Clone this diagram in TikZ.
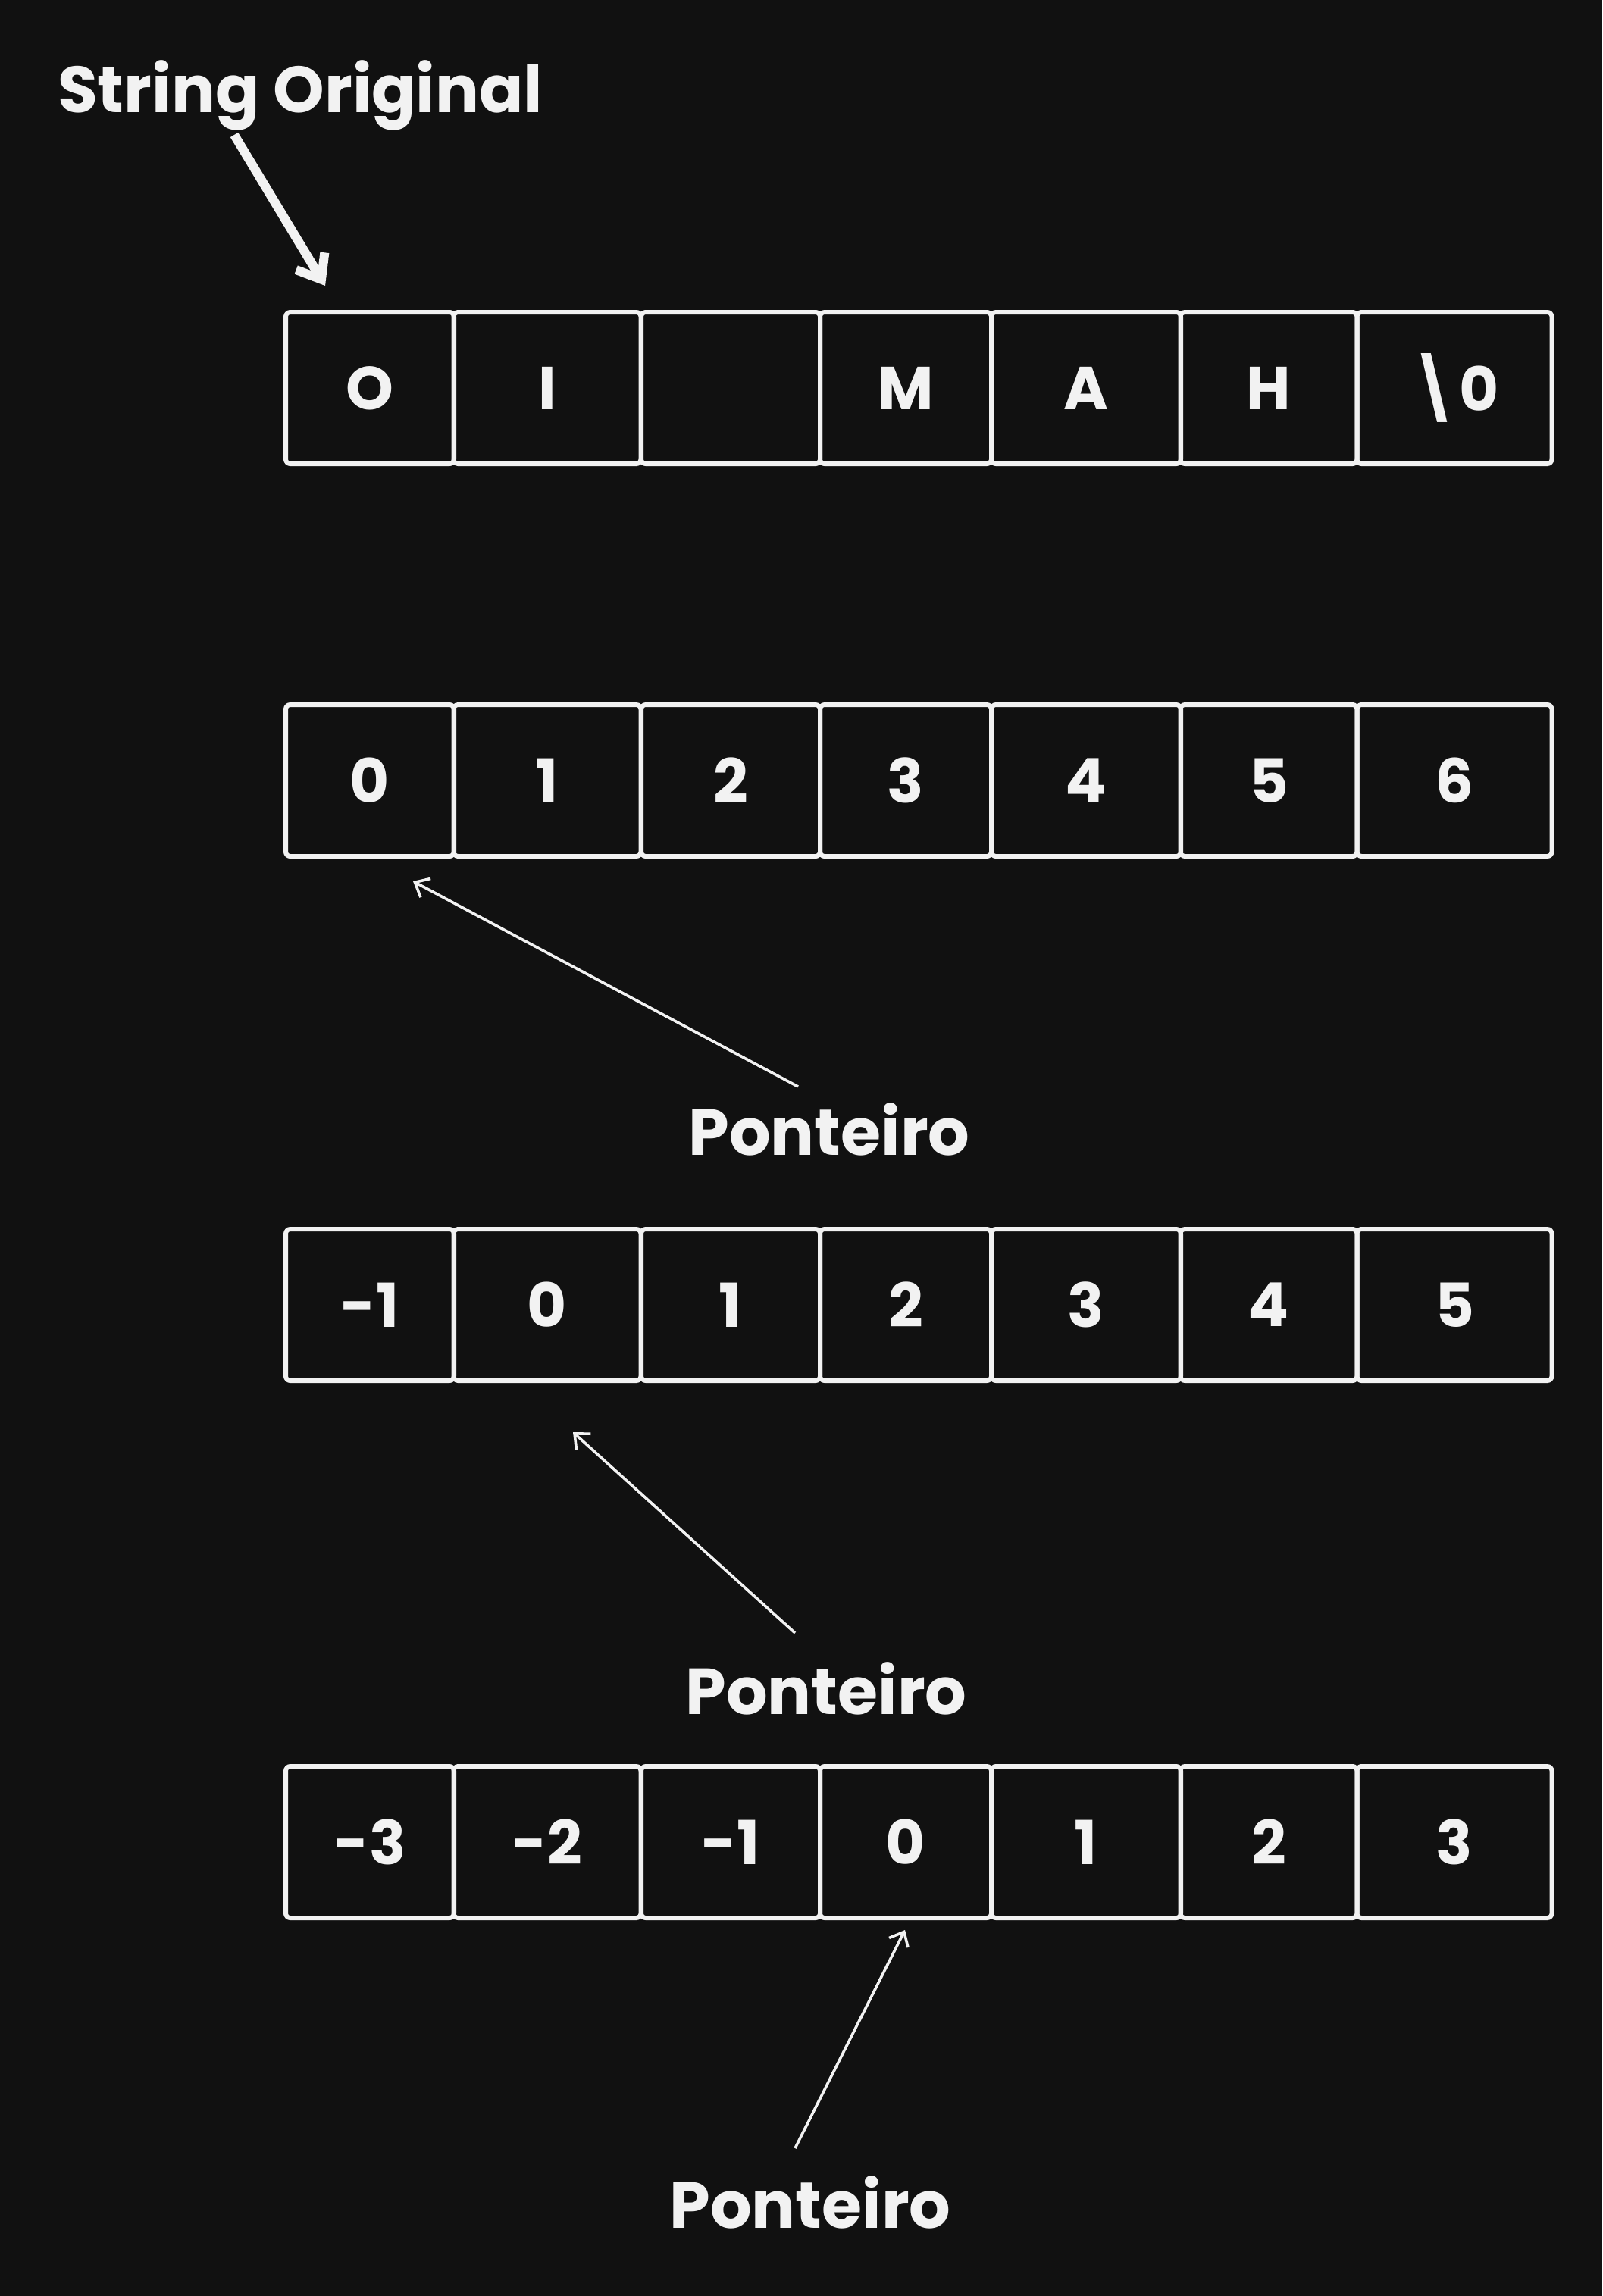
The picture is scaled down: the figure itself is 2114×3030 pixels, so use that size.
\documentclass[tikz,border=0pt]{standalone}
\usepackage{fontspec}
\setmainfont{Poppins}
\usetikzlibrary{arrows.meta}
\definecolor{bgdark}{HTML}{111111}
\definecolor{chalk}{HTML}{F2F2F2}

\begin{document}
\begin{tikzpicture}[x=0.25pt, y=-0.25pt, thick,
  cell/.style = {draw=chalk, line width=1.5pt, rounded corners=1.5pt, minimum height=50pt, inner sep=0pt, text=chalk, font=\fontsize{20}{24}\selectfont\bfseries},
  tag/.style = {text=chalk, font=\fontsize{21.5}{25}\selectfont\bfseries},
  ptr/.style = {draw=chalk, line width=0.9pt, -{Straight Barb[length=4pt,width=7pt]}}]
\fill[bgdark] (0,0) rectangle (2114,3030);
\useasboundingbox (0,0) rectangle (2114,3030);
% string cells
\foreach \cx/\w/\t [count=\i] in {488/222/O, 722/247/I, 964/236/{}, 1195/226/M, 1433/250/A, 1674/233/H, 1919/257/\textbackslash 0}
  \node[cell, minimum width=\w*0.25pt] (a\i) at (\cx,512) {\t};
% indices
\foreach \cx/\w/\t [count=\i] in {488/222/0, 722/247/1, 964/236/2, 1195/226/3, 1433/250/4, 1674/233/5, 1919/257/6}
  \node[cell, minimum width=\w*0.25pt] (b\i) at (\cx,1030) {\t};
\foreach \cx/\w/\t [count=\i] in {488/222/-1, 722/247/0, 964/236/1, 1195/226/2, 1433/250/3, 1674/233/4, 1919/257/5}
  \node[cell, minimum width=\w*0.25pt] (c\i) at (\cx,1722) {\t};
\foreach \cx/\w/\t [count=\i] in {488/222/-3, 722/247/-2, 964/236/-1, 1195/226/0, 1433/250/1, 1674/233/2, 1919/257/3}
  \node[cell, minimum width=\w*0.25pt] (d\i) at (\cx,2431) {\t};
% labels
\node[tag] (orig) at (396,126) {String Original};
\node[tag] (p1) at (1094,1490) {Ponteiro};
\node[tag] (p2) at (1090,2228) {Ponteiro};
\node[tag] (p3) at (1069,2906) {Ponteiro};
\coordinate (origtail) at (309,178);
\coordinate (origtip) at (429,377);
\coordinate (p1tail) at (1053,1434);
\coordinate (p1tip) at (545,1163);
\coordinate (p2tail) at (1049,2155);
\coordinate (p2tip) at (756,1890);
\coordinate (p3tail) at (1049,2835);
\coordinate (p3tip) at (1194,2547);
\draw[chalk, line width=3pt, -{Straight Barb[length=7pt,width=11pt]}] (origtail) -- (origtip);
\draw[ptr] (p1tail) -- (p1tip);
\draw[ptr] (p2tail) -- (p2tip);
\draw[ptr] (p3tail) -- (p3tip);
\end{tikzpicture}
\end{document}
